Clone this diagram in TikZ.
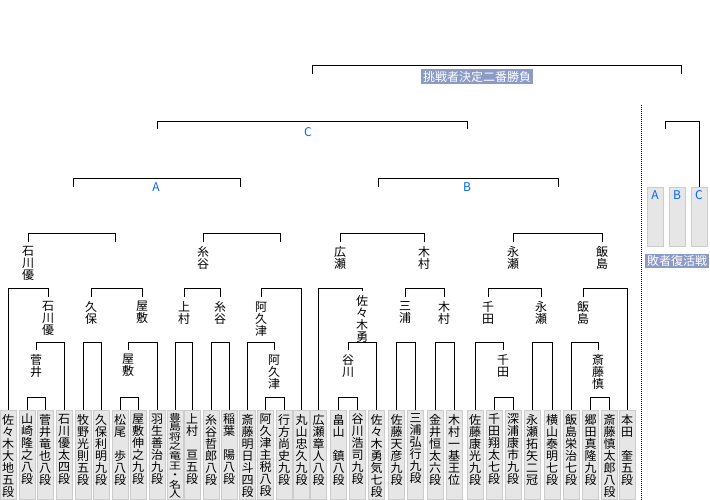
\documentclass[tikz,border=0pt]{standalone}
\usepackage{fontspec}
\usepackage{graphicx}
\setmainfont{Noto Sans CJK JP}
\definecolor{boxfill}{HTML}{E6E6E6}
\definecolor{boxline}{HTML}{CCCCCC}
\definecolor{tagfill}{HTML}{8C9AC6}
\definecolor{grpblue}{HTML}{0066FF}
% one character per line
\newcommand\vloop[1]{\ifx#1\relax\else\hbox to 16pt{\hss#1\hss}\expandafter\vloop\fi}
\newcommand\vname[1]{\vbox to 89pt{\baselineskip=12pt\lineskiplimit=-100pt\vskip 4pt\vloop#1\relax\vss}}
\newcommand\vsquash[1]{\vbox to 89pt{\vskip 3pt\hbox{\scalebox{1}[0.8]{\vbox{\baselineskip=12pt\lineskiplimit=-100pt\vloop#1\relax}}}\vss}}
\newcommand\vlabel[1]{\vbox{\baselineskip=12pt\lineskiplimit=-100pt\vloop#1\relax}}
\newcommand\grpmark[1]{\vbox to 59pt{\vskip 3pt\hbox to 16pt{\hss\color{grpblue}\fontsize{12}{12}\selectfont #1\hss}\vss}}
\begin{document}
\begin{tikzpicture}[x=1pt, y=-1pt, line width=0.9pt,
  player/.style={draw=boxline, fill=boxfill, line width=1pt, minimum width=15pt, minimum height=89pt, inner sep=0pt, anchor=north, font=\fontsize{12}{12}\selectfont},
  win/.style={anchor=north, inner xsep=0pt, inner ysep=4pt, font=\fontsize{12}{12}\selectfont},
  tag/.style={fill=tagfill, text=white, inner xsep=2pt, inner ysep=1.5pt, font=\fontsize{12}{12}\selectfont},
  grp/.style={text=grpblue, inner sep=0pt, font=\fontsize{12}{12}\selectfont}]
\useasboundingbox (0,0) rectangle (710,500);

% players
\node[player] (p0) at (8,409.5) {\vname{佐々木大地五段}};
\node[player] (p1) at (27,409.5) {\vname{山崎隆之八段}};
\node[player] (p2) at (45,409.5) {\vname{菅井竜也八段}};
\node[player] (p3) at (64,409.5) {\vname{石川優太四段}};
\node[player] (p4) at (83,409.5) {\vname{牧野光則五段}};
\node[player] (p5) at (101,409.5) {\vname{久保利明九段}};
\node[player] (p6) at (120,409.5) {\vname{松尾　歩八段}};
\node[player] (p7) at (138,409.5) {\vname{屋敷伸之九段}};
\node[player] (p8) at (157,409.5) {\vname{羽生善治九段}};
\node[player] (p9) at (175,409.5) {\vsquash{豊島将之竜王・名人}};
\node[player] (p10) at (192,409.5) {\vname{上村　亘五段}};
\node[player] (p11) at (211,409.5) {\vname{糸谷哲郎八段}};
\node[player] (p12) at (229,409.5) {\vname{稲葉　陽八段}};
\node[player] (p13) at (247.5,409.5) {\vname{斎藤明日斗四段}};
\node[player] (p14) at (265.5,409.5) {\vname{阿久津主税八段}};
\node[player] (p15) at (284,409.5) {\vname{行方尚史九段}};
\node[player] (p16) at (301.5,409.5) {\vname{丸山忠久九段}};
\node[player] (p17) at (318.5,409.5) {\vname{広瀬章人八段}};
\node[player] (p18) at (338.5,409.5) {\vname{畠山　鎮八段}};
\node[player] (p19) at (357.5,409.5) {\vname{谷川浩司九段}};
\node[player] (p20) at (376.5,409.5) {\vname{佐々木勇気七段}};
\node[player] (p21) at (396.5,409.5) {\vname{佐藤天彦九段}};
\node[player] (p22) at (415.5,409.5) {\vname{三浦弘行九段}};
\node[player] (p23) at (435,409.5) {\vname{金井恒太六段}};
\node[player] (p24) at (454,409.5) {\vname{木村一基王位}};
\node[player] (p25) at (475,409.5) {\vname{佐藤康光九段}};
\node[player] (p26) at (494,409.5) {\vname{千田翔太七段}};
\node[player] (p27) at (513,409.5) {\vname{深浦康市九段}};
\node[player] (p28) at (532,409.5) {\vname{永瀬拓矢二冠}};
\node[player] (p29) at (552,409.5) {\vname{横山泰明七段}};
\node[player] (p30) at (571,409.5) {\vname{飯島栄治七段}};
\node[player] (p31) at (590.5,409.5) {\vname{郷田真隆九段}};
\node[player] (p32) at (609.5,409.5) {\vname{斎藤慎太郎八段}};
\node[player] (p33) at (627,409.5) {\vname{本田　奎五段}};

% block A
\draw (p1.north) -- (p1.north |- 0,397) -| (p2.north);
\draw node[win] (sugai) at (36,350) {\vlabel{菅井}}
  (sugai.north) -- (sugai.north |- 0,342) -| (p3.north);
\draw node[win] (ishi1) at (48,297) {\vlabel{石川優}}
  (p0.north) -- (p0.north |- 0,288) -| (ishi1.north);
\draw (p4.north) -- (p4.north |- 0,342) -| (p5.north);
\draw (p6.north) -- (p6.north |- 0,397) -| (p7.north);
\draw node[win] (yashi1) at (128,350) {\vlabel{屋敷}}
  (yashi1.north) -- (yashi1.north |- 0,342) -| (p8.north);
\draw node[win] (kubo) at (91,297) {\vlabel{久保}}
  node[win] (yashi2) at (142,297) {\vlabel{屋敷}}
  (kubo.north) -- (kubo.north |- 0,288) -| (yashi2.north);
\coordinate (m8r) at (115,242);
\draw node[win] (ishi2) at (28,242) {\vlabel{石川優}}
  (ishi2.north) -- (ishi2.north |- 0,233) -| (m8r);

\draw (p9.north) -- (p9.north |- 0,342) -| (p10.north);
\draw (p11.north) -- (p11.north |- 0,342) -| (p12.north);
\draw node[win] (uemu) at (184,297) {\vlabel{上村}}
  node[win] (itoya1) at (220,297) {\vlabel{糸谷}}
  (uemu.north) -- (uemu.north |- 0,288) -| (itoya1.north);
\draw (p14.north) -- (p14.north |- 0,397) -| (p15.north);
\draw node[win] (akutsu1) at (274,350) {\vlabel{阿久津}}
  (p13.north) -- (p13.north |- 0,342) -| (akutsu1.north);
\draw node[win] (akutsu2) at (261,297) {\vlabel{阿久津}}
  (akutsu2.north) -- (akutsu2.north |- 0,288) -| (p16.north);
\coordinate (m15r) at (280,242);
\draw node[win] (itoya2) at (203,242) {\vlabel{糸谷}}
  (itoya2.north) -- (itoya2.north |- 0,233) -| (m15r);

\coordinate (a1) at (73,187);
\coordinate (a2) at (240,187);
\draw (a1) -- (a1 |- 0,178) -| (a2);
\node[grp] (grpA) at (156,187) {A};

% block B
\draw (p18.north) -- (p18.north |- 0,397) -| (p19.north);
\draw node[win] (tani) at (348,350) {\vlabel{谷川}}
  (tani.north) -- (tani.north |- 0,342) -| (p20.north);
\draw node[win] (sasaki) at (362,291) {\vlabel{佐々木勇}}
  (p17.north) -- (p17.north |- 0,288) -| (sasaki.north);
\draw (p21.north) -- (p21.north |- 0,342) -| (p22.north);
\draw (p23.north) -- (p23.north |- 0,342) -| (p24.north);
\draw node[win] (miura) at (405,297) {\vlabel{三浦}}
  node[win] (kimu1) at (444,297) {\vlabel{木村}}
  (miura.north) -- (miura.north |- 0,288) -| (kimu1.north);
\draw node[win] (hiro) at (340,242) {\vlabel{広瀬}}
  node[win] (kimu2) at (424,242) {\vlabel{木村}}
  (hiro.north) -- (hiro.north |- 0,233) -| (kimu2.north);

\draw (p26.north) -- (p26.north |- 0,397) -| (p27.north);
\draw node[win] (chida1) at (503,350) {\vlabel{千田}}
  (p25.north) -- (p25.north |- 0,342) -| (chida1.north);
\draw (p28.north) -- (p28.north |- 0,342) -| (p29.north);
\draw node[win] (chida2) at (488,297) {\vlabel{千田}}
  node[win] (naga1) at (541,297) {\vlabel{永瀬}}
  (chida2.north) -- (chida2.north |- 0,288) -| (naga1.north);
\draw (p31.north) -- (p31.north |- 0,397) -| (p32.north);
\draw node[win] (saito) at (598,350) {\vlabel{斎藤慎}}
  (p30.north) -- (p30.north |- 0,342) -| (saito.north);
\draw node[win] (ii1) at (583,297) {\vlabel{飯島}}
  (ii1.north) -- (ii1.north |- 0,288) -| (p33.north);
\draw node[win] (naga2) at (513,242) {\vlabel{永瀬}}
  node[win] (ii2) at (602,242) {\vlabel{飯島}}
  (naga2.north) -- (naga2.north |- 0,233) -| (ii2.north);

\coordinate (b1) at (378,187);
\coordinate (b2) at (558,187);
\draw (b1) -- (b1 |- 0,178) -| (b2);
\node[grp] (grpB) at (467,187) {B};

% C and final
\coordinate (c1) at (157,129);
\coordinate (c2) at (467,129);
\draw (c1) -- (c1 |- 0,121) -| (c2);
\node[grp] (grpC) at (308,132) {C};

\coordinate (f1) at (312,74);
\coordinate (f2) at (681,74);
\draw (f1) -- (f1 |- 0,65) -| (f2);
\node[tag] (final) at (477,76.5) {挑戦者決定二番勝負};

% losers side
\draw[line width=0.8pt, dash pattern=on 1pt off 1pt] (641.5,105) -- (641.5,500);
\node[player, minimum height=59pt] (la) at (655,187) {\grpmark{A}};
\node[player, minimum height=59pt] (lb) at (677,187) {\grpmark{B}};
\node[player, minimum height=59pt] (lc) at (699,187) {\grpmark{C}};
\coordinate (r1) at (665.5,129);
\draw (r1) -- (r1 |- 0,121) -| (lc.north);
\node[tag] (revival) at (677,261) {敗者復活戦};
\end{tikzpicture}
\end{document}
